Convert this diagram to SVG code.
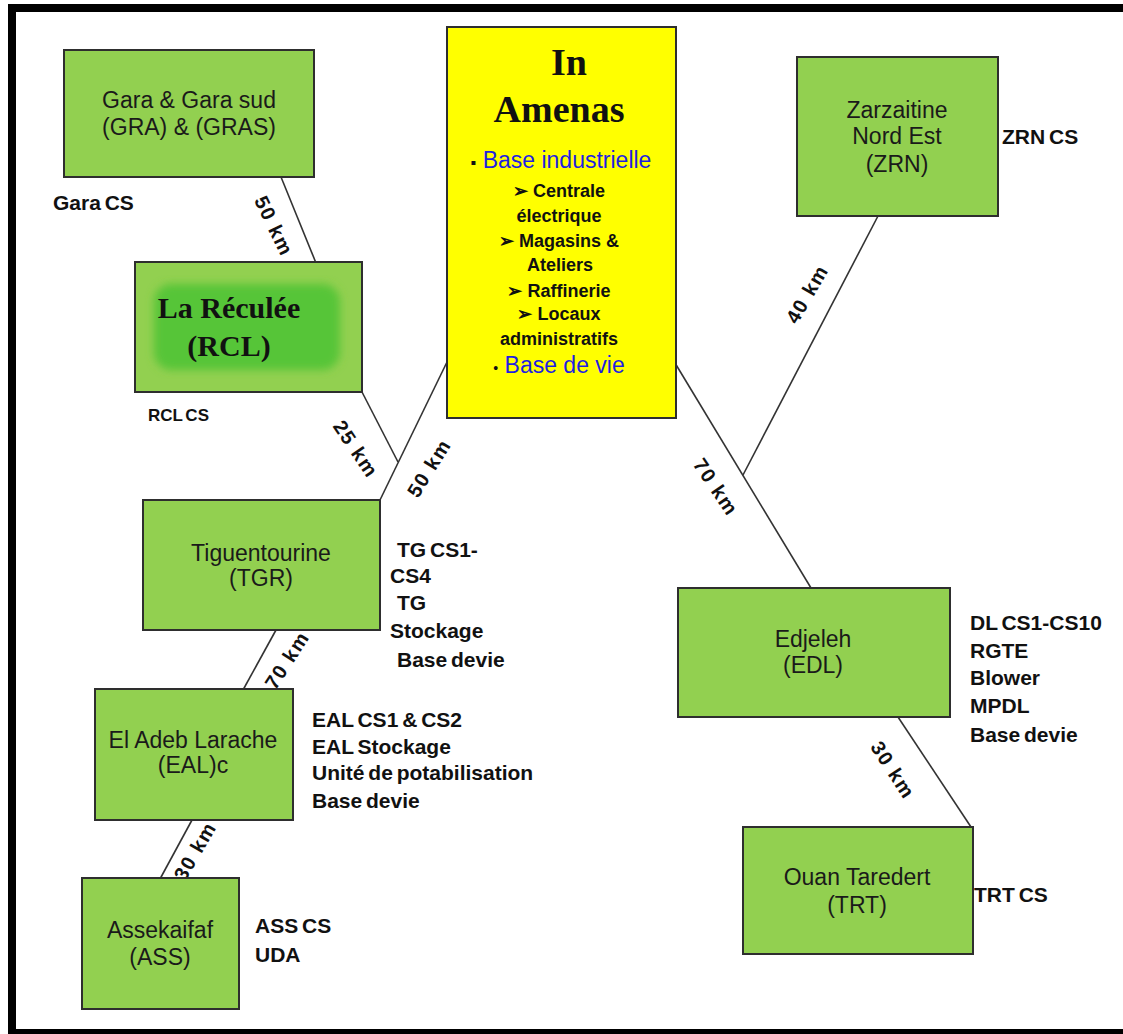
<svg xmlns="http://www.w3.org/2000/svg" width="1123" height="1034" viewBox="0 0 1123 1034">
<style>
.box{fill:#92d050;stroke:#2e2e2e;stroke-width:2}
.lbl{font-family:"Liberation Sans",Arial,sans-serif;font-size:23px;fill:#1a1a1a;text-anchor:middle}
.side{font-family:"Liberation Sans",Arial,sans-serif;font-size:21px;font-weight:bold;fill:#111;word-spacing:-2px}
.km{font-family:"Liberation Sans",Arial,sans-serif;font-size:20px;font-weight:bold;fill:#111;letter-spacing:1.5px;text-anchor:middle;dominant-baseline:central}
.serif{font-family:"Liberation Serif","Times New Roman",serif;font-weight:bold;fill:#111;text-anchor:middle}
.blue{font-family:"Liberation Sans",Arial,sans-serif;font-size:23px;fill:#1f1fe0;text-anchor:middle}
.small{font-family:"Liberation Sans",Arial,sans-serif;font-size:18px;font-weight:bold;fill:#111;text-anchor:middle}
.conn line{stroke:#333;stroke-width:1.6}
</style>
<defs>
<filter id="soft" x="-10%" y="-10%" width="120%" height="120%">
<feGaussianBlur stdDeviation="4"/>
</filter>
</defs>
<rect x="0" y="0" width="1123" height="1034" fill="#ffffff"/>
<rect x="12" y="8" width="1125" height="1025" fill="none" stroke="#000" stroke-width="8"/>

<g id="connectors" class="conn">
<line x1="281" y1="177" x2="316" y2="263"/>
<line x1="362" y1="392" x2="398" y2="462"/>
<line x1="447" y1="362" x2="380" y2="500"/>
<line x1="675" y1="363" x2="811" y2="588"/>
<line x1="878" y1="216" x2="743" y2="475"/>
<line x1="276" y1="630" x2="243" y2="690"/>
<line x1="192" y1="820" x2="160" y2="879"/>
<line x1="898" y1="717" x2="971" y2="827"/>
<text class="km" transform="translate(274,226) rotate(64)">50 km</text>
<text class="km" transform="translate(356,449) rotate(56)">25 km</text>
<text class="km" transform="translate(429,468) rotate(-58)">50 km</text>
<text class="km" transform="translate(807,294) rotate(-60)">40 km</text>
<text class="km" transform="translate(716,487) rotate(56)">70 km</text>
<text class="km" transform="translate(287,660) rotate(-57)">70 km</text>
<text class="km" transform="translate(195,851) rotate(-60)">30 km</text>
<text class="km" transform="translate(893,770) rotate(57)">30 km</text>
</g>

<g id="gara">
<rect class="box" x="64" y="50" width="250" height="127"/>
<text class="lbl" x="189" y="108">Gara &amp; Gara sud</text>
<text class="lbl" x="189" y="135">(GRA) &amp; (GRAS)</text>
<text class="side" x="53" y="210">Gara CS</text>
</g>

<g id="rcl">
<rect class="box" x="135" y="262" width="227" height="130"/>
<rect x="154" y="284" width="186" height="86" rx="18" fill="#56c537" filter="url(#soft)"/>
<text class="serif" x="229" y="318" font-size="30">La Réculée</text>
<text class="serif" x="229" y="356" font-size="30">(RCL)</text>
<text class="side" x="148" y="421" style="font-size:17px">RCL CS</text>
</g>

<g id="inamenas">
<rect x="447" y="27" width="229" height="391" fill="#ffff00" stroke="#2e2e2e" stroke-width="2"/>
<text class="serif" x="569" y="75" font-size="38">In</text>
<text class="serif" x="559" y="122" font-size="38">Amenas</text>
<text class="blue" x="561" y="168"><tspan fill="#111" font-size="16">▪</tspan> Base industrielle</text>
<text class="small" x="559" y="197">➢ Centrale</text>
<text class="small" x="559" y="222">électrique</text>
<text class="small" x="559" y="247">➢ Magasins &amp;</text>
<text class="small" x="560" y="271">Ateliers</text>
<text class="small" x="559" y="297">➢ Raffinerie</text>
<text class="small" x="559" y="320">➢ Locaux</text>
<text class="small" x="559" y="345">administratifs</text>
<text class="blue" x="559" y="373"><tspan fill="#111" font-size="14">•</tspan> Base de vie</text>
</g>

<g id="zrn">
<rect class="box" x="797" y="57" width="201" height="159"/>
<text class="lbl" x="897" y="118">Zarzaitine</text>
<text class="lbl" x="897" y="144">Nord Est</text>
<text class="lbl" x="897" y="172">(ZRN)</text>
<text class="side" x="1002" y="144">ZRN CS</text>
</g>

<g id="tgr">
<rect class="box" x="143" y="500" width="237" height="130"/>
<text class="lbl" x="261" y="561">Tiguentourine</text>
<text class="lbl" x="261" y="586">(TGR)</text>
<text class="side" x="397" y="557">TG CS1-</text>
<text class="side" x="390" y="583">CS4</text>
<text class="side" x="397" y="610">TG</text>
<text class="side" x="390" y="638">Stockage</text>
<text class="side" x="397" y="667">Base devie</text>
</g>

<g id="edl">
<rect class="box" x="678" y="588" width="272" height="129"/>
<text class="lbl" x="813" y="647">Edjeleh</text>
<text class="lbl" x="813" y="673">(EDL)</text>
<text class="side" x="970" y="630">DL CS1-CS10</text>
<text class="side" x="970" y="658">RGTE</text>
<text class="side" x="970" y="685">Blower</text>
<text class="side" x="970" y="713">MPDL</text>
<text class="side" x="970" y="742">Base devie</text>
</g>

<g id="eal">
<rect class="box" x="95" y="689" width="198" height="131"/>
<text class="lbl" x="193" y="748">El Adeb Larache</text>
<text class="lbl" x="193" y="773">(EAL)c</text>
<text class="side" x="312" y="727">EAL CS1 &amp; CS2</text>
<text class="side" x="312" y="754">EAL Stockage</text>
<text class="side" x="312" y="780">Unité de potabilisation</text>
<text class="side" x="312" y="808">Base devie</text>
</g>

<g id="ass">
<rect class="box" x="82" y="878" width="157" height="131"/>
<text class="lbl" x="160" y="938">Assekaifaf</text>
<text class="lbl" x="160" y="965">(ASS)</text>
<text class="side" x="255" y="933">ASS CS</text>
<text class="side" x="255" y="962">UDA</text>
</g>

<g id="trt">
<rect class="box" x="743" y="827" width="230" height="127"/>
<text class="lbl" x="857" y="885">Ouan Taredert</text>
<text class="lbl" x="857" y="913">(TRT)</text>
<text class="side" x="974" y="902">TRT CS</text>
</g>
</svg>
